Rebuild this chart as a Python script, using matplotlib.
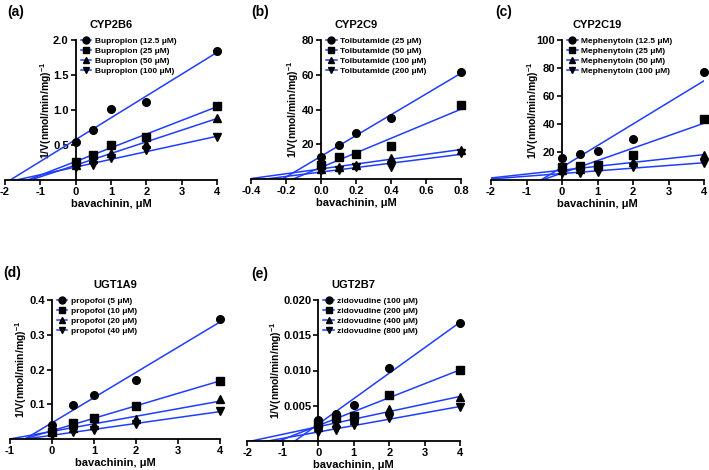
import numpy as np
import matplotlib
matplotlib.use('Agg')
import matplotlib.pyplot as plt
from matplotlib.lines import Line2D

plt.rcParams['font.family'] = ['Liberation Sans', 'DejaVu Sans']
plt.rcParams['font.weight'] = 'bold'
plt.rcParams['axes.unicode_minus'] = False
plt.rcParams['mathtext.fontset'] = 'custom'
plt.rcParams['mathtext.rm'] = 'Liberation Sans:bold'
plt.rcParams['mathtext.bf'] = 'Liberation Sans:bold'
plt.rcParams['mathtext.it'] = 'Liberation Sans:bold'

# ---------------- data ----------------
# (a) CYP2B6
a_x = [0, 0.5, 1, 2, 4]
a_labels = ['Bupropion (12.5 μM)', 'Bupropion (25 μM)', 'Bupropion (50 μM)', 'Bupropion (100 μM)']
a_s1 = [0.55, 0.71, 1.01, 1.11, 1.84]
a_s2 = [0.26, 0.36, 0.50, 0.61, 1.06]
a_s3 = [0.22, 0.30, 0.38, 0.52, 0.89]
a_s4 = [0.18, 0.21, 0.32, 0.43, 0.61]
a_xticks = [-2, -1, 0, 1, 2, 3, 4]
a_xticklabels = ['-2', '-1', '0', '1', '2', '3', '4']
a_yticks = [0.5, 1.0, 1.5, 2.0]
a_yticklabels = ['0.5', '1.0', '1.5', '2.0']

# (b) CYP2C9
b_x = [0, 0.1, 0.2, 0.4, 0.8]
b_labels = ['Tolbutamide (25 μM)', 'Tolbutamide (50 μM)', 'Tolbutamide (100 μM)', 'Tolbutamide (200 μM)']
b_s1 = [12.5, 19.4, 26.7, 35.0, 61.4]
b_s2 = [8.1, 12.5, 14.2, 19.0, 42.4]
b_s3 = [6.0, 7.0, 8.0, 12.3, 16.7]
b_s4 = [5.0, 5.2, 6.7, 7.1, 15.2]
b_xticks = [-0.4, -0.2, 0.0, 0.2, 0.4, 0.6, 0.8]
b_xticklabels = ['-0.4', '-0.2', '0.0', '0.2', '0.4', '0.6', '0.8']
b_yticks = [20, 40, 60, 80]
b_yticklabels = ['20', '40', '60', '80']

# (c) CYP2C19
c_x = [0, 0.5, 1, 2, 4]
c_labels = ['Mephenytoin (12.5 μM)', 'Mephenytoin (25 μM)', 'Mephenytoin (50 μM)', 'Mephenytoin (100 μM)']
c_s1 = [16.0, 18.6, 20.5, 29.3, 77.0]
c_s2 = [9.0, 10.0, 11.0, 17.9, 43.6]
c_s3 = [7.0, 8.0, 10.0, 13.0, 17.9]
c_s4 = [5.0, 5.0, 6.0, 9.5, 12.0]
c_xticks = [-2, -1, 0, 1, 2, 3, 4]
c_xticklabels = ['-2', '-1', '0', '1', '2', '3', '4']
c_yticks = [20, 40, 60, 80, 100]
c_yticklabels = ['20', '40', '60', '80', '100']

# (d) UGT1A9
d_x = [0, 0.5, 1, 2, 4]
d_labels = ['propofol (5 μM)', 'propofol (10 μM)', 'propofol (20 μM)', 'propofol (40 μM)']
d_s1 = [0.040, 0.098, 0.126, 0.170, 0.345]
d_s2 = [0.021, 0.047, 0.060, 0.095, 0.168]
d_s3 = [0.030, 0.032, 0.042, 0.057, 0.115]
d_s4 = [0.012, 0.020, 0.028, 0.045, 0.080]
d_xticks = [-1, 0, 1, 2, 3, 4]
d_xticklabels = ['-1', '0', '1', '2', '3', '4']
d_yticks = [0.1, 0.2, 0.3, 0.4]
d_yticklabels = ['0.1', '0.2', '0.3', '0.4']

# (e) UGT2B7
e_x = [0, 0.5, 1, 2, 4]
e_labels = ['zidovudine (100 μM)', 'zidovudine (200 μM)', 'zidovudine (400 μM)', 'zidovudine (800 μM)']
e_s1 = [0.0030, 0.0039, 0.0051, 0.0103, 0.0168]
e_s2 = [0.0025, 0.0032, 0.0035, 0.0065, 0.0101]
e_s3 = [0.0020, 0.0025, 0.0030, 0.0045, 0.0062]
e_s4 = [0.0013, 0.0015, 0.0023, 0.0033, 0.0048]
e_xticks = [-2, -1, 0, 1, 2, 3, 4]
e_xticklabels = ['-2', '-1', '0', '1', '2', '3', '4']
e_yticks = [0.005, 0.010, 0.015, 0.020]
e_yticklabels = ['0.005', '0.010', '0.015', '0.020']

titles = ['CYP2B6', 'CYP2C9', 'CYP2C19', 'UGT1A9', 'UGT2B7']
tags = ['(a)', '(b)', '(c)', '(d)', '(e)']
xlabel = 'bavachinin, μM'
ylabel = r'1/V(nmol/min/mg)$^{-1}$'

# ---------------- layout ----------------
W, H = 709, 470
fig = plt.figure(figsize=(W / 100, H / 100), dpi=100)
BLUE = '#1f3dff'
markers = ['o', 's', '^', 'v']

# px: (left, right, top, bottom) of axes in pixels; ylab: px distance of label centre left of spine
panels = [
    dict(x=a_x, ys=[a_s1, a_s2, a_s3, a_s4], labels=a_labels, xt=a_xticks, xtl=a_xticklabels,
         yt=a_yticks, ytl=a_yticklabels, px=(5, 217, 40, 180), tag=(7, 12), ylab=27),
    dict(x=b_x, ys=[b_s1, b_s2, b_s3, b_s4], labels=b_labels, xt=b_xticks, xtl=b_xticklabels,
         yt=b_yticks, ytl=b_yticklabels, px=(251, 461, 40, 179), tag=(251, 12), ylab=25),
    dict(x=c_x, ys=[c_s1, c_s2, c_s3, c_s4], labels=c_labels, xt=c_xticks, xtl=c_xticklabels,
         yt=c_yticks, ytl=c_yticklabels, px=(491, 704, 40, 180), tag=(495, 12), ylab=26),
    dict(x=d_x, ys=[d_s1, d_s2, d_s3, d_s4], labels=d_labels, xt=d_xticks, xtl=d_xticklabels,
         yt=d_yticks, ytl=d_yticklabels, px=(9.5, 220.3, 300, 439.3), tag=(3, 273), ylab=28),
    dict(x=e_x, ys=[e_s1, e_s2, e_s3, e_s4], labels=e_labels, xt=e_xticks, xtl=e_xticklabels,
         yt=e_yticks, ytl=e_yticklabels, px=(247.3, 460.3, 300, 441), tag=(251, 274), ylab=39),
]

for i, p in enumerate(panels):
    l, r, t, b = p['px']
    ax = fig.add_axes([l / W, 1 - b / H, (r - l) / W, (b - t) / H])
    ax.patch.set_visible(False)
    xlim = (p['xt'][0], p['xt'][-1])
    ylim = (0, p['yt'][-1])
    ax.set_xlim(*xlim)
    ax.set_ylim(*ylim)
    xx = np.array(xlim, dtype=float)
    handles = []
    for s, m, lab in zip(p['ys'], markers, p['labels']):
        k, c0 = np.polyfit(p['x'], s, 1)
        ax.plot(xx, k * xx + c0, color=BLUE, lw=1.1, zorder=2)
        ax.plot(p['x'], s, linestyle='none', marker=m, ms=5.5, mfc='k', mec='k',
                zorder=3, clip_on=False)
        handles.append(Line2D([0], [0], color=BLUE, lw=1.1, marker=m, ms=5, mfc='k', mec='k'))
    for side in ['top', 'right']:
        ax.spines[side].set_visible(False)
    ax.spines['left'].set_position(('data', 0))
    for side in ['left', 'bottom']:
        ax.spines[side].set_linewidth(1.3)
    ax.set_xticks(p['xt'])
    ax.set_xticklabels(p['xtl'])
    ax.set_yticks(p['yt'])
    ax.set_yticklabels(p['ytl'])
    ax.tick_params(direction='out', length=3.5, width=1.2, labelsize=8, pad=1.5)
    ax.set_xlabel(xlabel, fontsize=8, fontweight='bold', labelpad=1.5)
    ax.set_ylabel(ylabel, fontsize=7.5, fontweight='bold')
    spine_px = l + (0 - xlim[0]) / (xlim[1] - xlim[0]) * (r - l)
    lab_right = spine_px - p['ylab'] + 5
    ax.yaxis.set_label_coords((lab_right - l) / (r - l), 0.5)
    ax.set_title(titles[i], fontsize=8, fontweight='bold', pad=9)
    # legend anchored just right of the y-axis spine
    fx = (spine_px + 5) / W
    fy = 1 - (t - 3) / H
    leg = ax.legend(handles, p['labels'], loc='upper left', bbox_to_anchor=(fx, fy),
                    bbox_transform=fig.transFigure, frameon=False, fontsize=6,
                    handlelength=1.3, handletextpad=0.4, labelspacing=0.25,
                    borderpad=0, borderaxespad=0)
    for txt in leg.get_texts():
        txt.set_fontweight('bold')
    fig.text(p['tag'][0] / W, 1 - p['tag'][1] / H, tags[i], fontsize=10,
             fontweight='bold', ha='left', va='center')

fig.savefig('out.png', dpi=100)
